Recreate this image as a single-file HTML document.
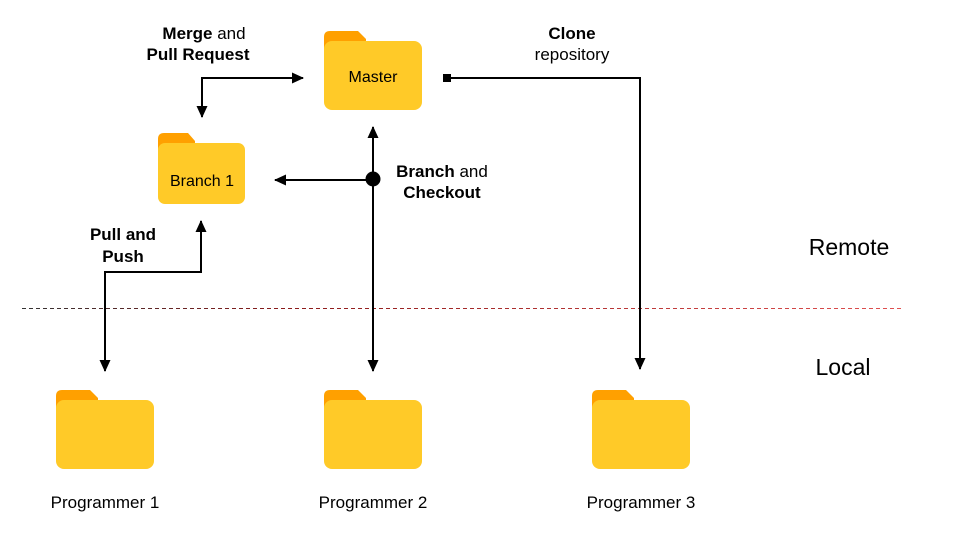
<!DOCTYPE html>
<html><head><meta charset="utf-8"><style>
html,body{margin:0;padding:0;background:#fff;}
svg{display:block;font-family:"Liberation Sans",Arial,sans-serif;}
</style></head><body>
<svg width="960" height="540" viewBox="0 0 960 540" xmlns="http://www.w3.org/2000/svg">
<defs>
<marker id="a" markerWidth="12" markerHeight="12" refX="11" refY="6" orient="auto" markerUnits="userSpaceOnUse"><path d="M0,0.5 L12,6 L0,11.5 z" fill="#000"/></marker>
<linearGradient id="g" gradientUnits="userSpaceOnUse" x1="22" y1="0" x2="902" y2="0"><stop offset="0" stop-color="#333"/><stop offset="0.3" stop-color="#8b1a1a"/><stop offset="1" stop-color="#e05050"/></linearGradient>
<g id="f">
<path d="M0,6 Q0,0 6,0 L34,0 L42,8 L42,20 L0,20 z" fill="#ffa000"/>
<rect x="0" y="10" width="98" height="69" rx="8" fill="#ffca28"/>
</g>
<g id="fs">
<path d="M0,6 Q0,0 6,0 L30,0 L37,8 L37,20 L0,20 z" fill="#ffa000"/>
<rect x="0" y="10" width="87" height="61" rx="7" fill="#ffca28"/>
</g>
</defs>
<line x1="22" y1="308.5" x2="902" y2="308.5" stroke="url(#g)" stroke-width="1" stroke-dasharray="4,3"/>
<use href="#f" x="324" y="31"/>
<use href="#fs" x="158" y="133"/>
<use href="#f" x="56" y="390"/>
<use href="#f" x="324" y="390"/>
<use href="#f" x="592" y="390"/>
<text x="373" y="82" font-size="16" text-anchor="middle">Master</text>
<text x="202" y="186" font-size="16" text-anchor="middle">Branch 1</text>
<text x="105" y="508" font-size="17" text-anchor="middle">Programmer 1</text>
<text x="373" y="508" font-size="17" text-anchor="middle">Programmer 2</text>
<text x="641" y="508" font-size="17" text-anchor="middle">Programmer 3</text>
<text x="849" y="255" font-size="23" text-anchor="middle">Remote</text>
<text x="843" y="375" font-size="23" text-anchor="middle">Local</text>
<g font-size="17" text-anchor="middle">
<text x="204" y="39"><tspan font-weight="bold">Merge</tspan> and</text>
<text x="198" y="60" font-weight="bold">Pull Request</text>
<text x="123" y="240" font-weight="bold">Pull and</text>
<text x="123" y="262" font-weight="bold">Push</text>
<text x="442" y="177"><tspan font-weight="bold">Branch</tspan> and</text>
<text x="442" y="198" font-weight="bold">Checkout</text>
<text x="572" y="39" font-weight="bold">Clone</text>
<text x="572" y="60">repository</text>
</g>
<g stroke="#000" stroke-width="2" fill="none">
<polyline points="202,107 202,78 303,78" marker-end="url(#a)"/>
<line x1="202" y1="80" x2="202" y2="117" marker-end="url(#a)"/>
<line x1="373" y1="370" x2="373" y2="127" marker-end="url(#a)"/>
<line x1="373" y1="180" x2="373" y2="371" marker-end="url(#a)"/>
<line x1="373" y1="180" x2="275" y2="180" marker-end="url(#a)"/>
<polyline points="105,272 201,272 201,221" marker-end="url(#a)"/>
<polyline points="201,272 105,272 105,371" marker-end="url(#a)"/>
<polyline points="447,78 640,78 640,369" marker-end="url(#a)"/>
</g>
<circle cx="373" cy="179" r="7.5" fill="#000"/>
<rect x="443" y="74" width="8" height="8" fill="#000"/>
</svg>
</body></html>
